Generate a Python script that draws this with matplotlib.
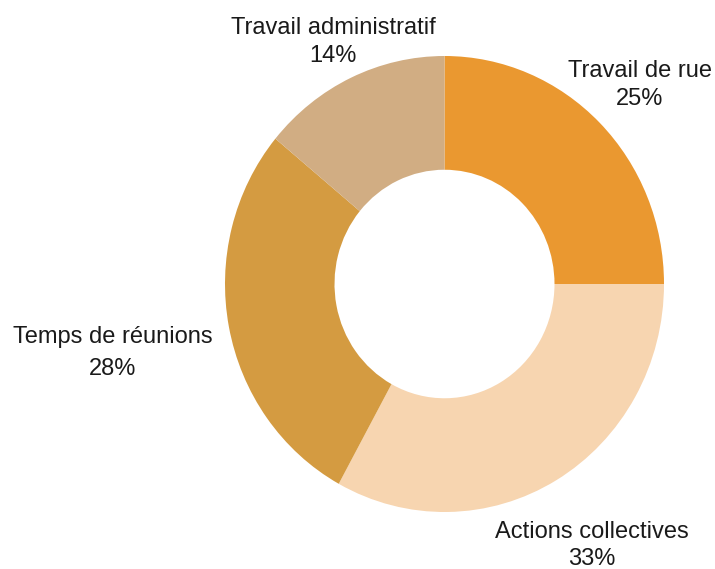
import matplotlib
matplotlib.use('Agg')
import matplotlib.pyplot as plt

# ── données ──────────────────────────────────────────────
categories = ['Travail de rue', 'Actions collectives', 'Temps de réunions', 'Travail administratif']
values     = [25, 33, 28, 14]
colors     = ['#EA9830', '#F7D5B0', '#D49B41', '#D1AD83']

W, H = 715, 569
SY = 228 / 219.5   # l'original est légèrement étiré verticalement
plt.rcParams['font.family'] = ['Liberation Sans', 'DejaVu Sans']

fig = plt.figure(figsize=(W / 100, H / 100), dpi=100)
ax = fig.add_axes([0, 0, 1, 1])

cx, cy, R = 444.5, (H - 284) / SY, 219.5
ax.pie(values, colors=colors, startangle=90, counterclock=False,
       center=(cx, cy), radius=R,
       wedgeprops=dict(width=109.5, linewidth=0))

ax.set_xlim(0, W)
ax.set_ylim(0, H / SY)
ax.set_aspect('auto')
ax.axis('off')

# positions des étiquettes (pixels, origine en haut à gauche)
label_pos = {
    'Travail de rue':        (640, 77, 105),
    'Actions collectives':   (592, 538, 565),
    'Temps de réunions':     (113, 343, 375),
    'Travail administratif': (333, 34, 62),
}
for name, v in zip(categories, values):
    x, y1, y2 = label_pos[name]
    ax.text(x, (H - y1) / SY, name, ha='center', va='baseline', fontsize=17, color='#1a1a1a')
    ax.text(x, (H - y2) / SY, f'{v}%', ha='center', va='baseline', fontsize=17, color='#1a1a1a')

fig.savefig('out.png', dpi=100)
